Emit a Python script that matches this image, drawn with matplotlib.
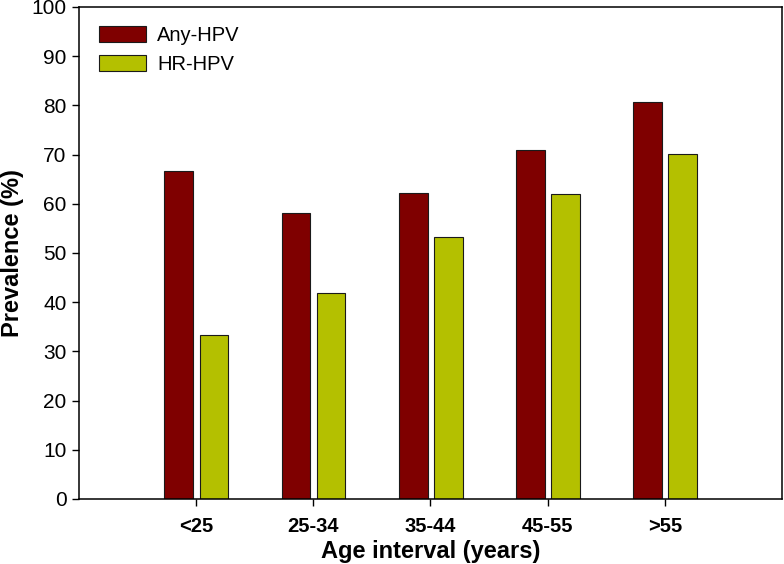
import numpy as np
import matplotlib
matplotlib.use("Agg")
import matplotlib.pyplot as plt

plt.rcParams['font.family'] = ['Liberation Sans', 'DejaVu Sans']

AGES = ['<25', '25-34', '35-44', '45-55', '>55']
ANY_HPV = [66.7, 58.1, 62.2, 70.9, 80.7]
HR_HPV = [33.3, 41.9, 53.3, 62.0, 70.2]

RED = '#7f0000'
GREEN = '#b4c000'

fw, fh = 7.84, 5.64
fig = plt.figure(figsize=(fw, fh), dpi=100)
ax = fig.add_axes([79/784, 65/564, 703/784, 492/564])

xpos = np.arange(len(AGES))
w = 0.245
ax.bar(xpos - 0.148, ANY_HPV, width=w, color=RED, edgecolor='#1a1a1a',
       linewidth=0.8, label='Any-HPV')
ax.bar(xpos + 0.152, HR_HPV, width=w, color=GREEN, edgecolor='#1a1a1a',
       linewidth=0.8, label='HR-HPV')

ax.set_xlim(-1, 5)
ax.set_ylim(0, 100)
ax.set_yticks(np.arange(0, 101, 10))
ax.set_xticks(xpos)
ax.set_xticklabels(AGES, fontsize=14.5, fontweight='bold')
ax.tick_params(axis='y', labelsize=15, length=5, width=1, direction='out',
               pad=4)
ax.tick_params(axis='x', length=5, width=1, direction='out', pad=8)
for sp in ax.spines.values():
    sp.set_linewidth(1.1)

ax.set_xlabel('Age interval (years)', fontsize=17, fontweight='bold',
              labelpad=3)
ax.set_ylabel('Prevalence (%)', fontsize=17, fontweight='bold', labelpad=5)

ax.legend(loc='upper left', bbox_to_anchor=(0.008, 0.99), frameon=False,
          fontsize=14.5, handlelength=2.35, handleheight=0.8,
          labelspacing=0.5, handletextpad=0.55, borderaxespad=0.3)

fig.savefig('out.png', dpi=100)
